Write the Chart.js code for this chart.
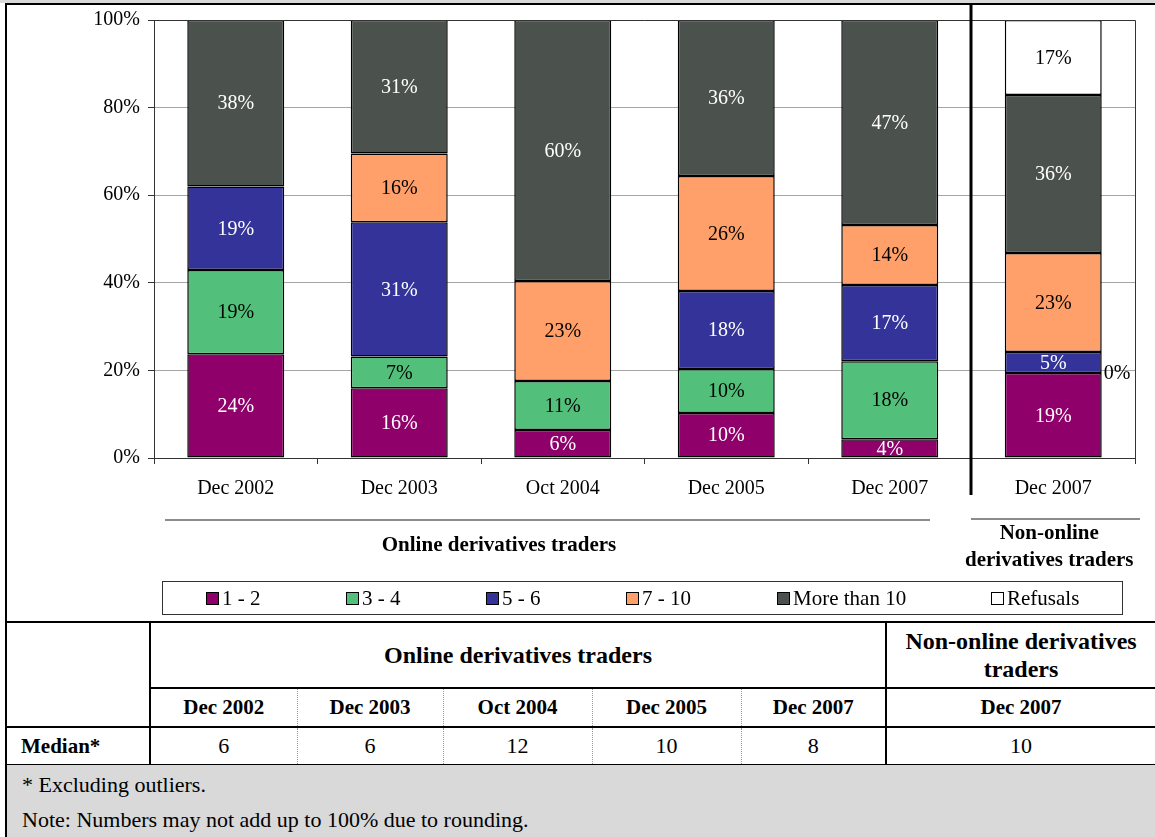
<html>
    <head>
        <title>Number of derivatives trades</title>
        <script src="https://cdn.jsdelivr.net/npm/chart.js"></script>
        <style>
            body {
                margin: 0;
                background: #fff;
                font-family: "Liberation Serif", "Times New Roman", serif;
                color: #000;
            }
            #strip { position: absolute; left: 0; top: 0; width: 1155px; height: 3px; background: #d9d9d9; }
            #frameTop { position: absolute; left: 5px; top: 3px; width: 1150px; height: 2px; background: #000; }
            #frameLeft { position: absolute; left: 5px; top: 3px; width: 2px; height: 834px; background: #000; }
            #chart { position: absolute; left: 0; top: 0; }
            #legend {
                position: absolute; left: 162px; top: 581px; width: 959px; height: 32px;
                border: 1px solid #333; font-size: 21px;
            }
            #legend .item { position: absolute; top: 5px; white-space: nowrap; line-height: 22px; }
            #legend .box {
                display: inline-block; width: 11px; height: 11px; border: 1px solid #000;
                margin-right: 3px; vertical-align: 0px;
            }
            #tbl {
                position: absolute; left: 5px; top: 621px; width: 1150px;
                border-collapse: collapse; table-layout: fixed;
                border-top: 2px solid #000;
            }
            #tbl td { border-bottom: 2px solid #000; text-align: center; padding: 0; }
            #tbl .head { font-weight: bold; font-size: 24px; line-height: 28px; height: 66px; }
            #tbl .date { font-weight: bold; font-size: 21px; height: 39px; }
            #tbl .val { font-size: 22px; height: 38px; }
            #tbl .lab { text-align: left; padding-left: 16px; font-weight: bold; font-size: 21px; }
            #tbl .solid { border-right: 2px solid #000; }
            #tbl .dots { border-right: 1px dotted #999; }
            #foot {
                position: absolute; left: 7px; top: 765px; width: 1148px; height: 72px;
                background: #d9d9d9; font-size: 22px;
            }
            #foot div { position: absolute; left: 15px; white-space: nowrap; }
        </style>
    </head>
    <body>
        <div id="strip"></div>
        <div id="frameTop"></div>
        <div id="frameLeft"></div>
        <canvas id="chart" width="1155" height="620"></canvas>
        <div id="legend"></div>
        <table id="tbl"></table>
        <div id="foot">
            <div style="top:7px">* Excluding outliers.</div>
            <div style="top:42px">Note: Numbers may not add up to 100% due to rounding.</div>
        </div>
        <script>
            // survey periods, last one is the non-online group
            const categories = ['Dec 2002', 'Dec 2003', 'Oct 2004', 'Dec 2005', 'Dec 2007', 'Dec 2007'];
            const groupNames = ['Online derivatives traders', 'Non-online derivatives traders'];
            const seriesNames = ['1 - 2', '3 - 4', '5 - 6', '7 - 10', 'More than 10', 'Refusals'];
            // shares in %
            const share1to2 = [23.7, 15.9, 6.4, 10.3, 4.3, 19.4];
            const share3to4 = [19.2, 7.3, 11.2, 10.0, 17.8, 0];
            const share5to6 = [19.1, 30.6, 0, 17.8, 17.4, 4.8];
            const share7to10 = [0, 15.7, 22.8, 26.3, 13.7, 22.6];
            const shareOver10 = [38.0, 30.5, 59.6, 35.6, 46.8, 36.1];
            const shareRefusals = [0, 0, 0, 0, 0, 17.1];
            const medians = [6, 6, 12, 10, 8, 10];
            const yTicks = [0, 20, 40, 60, 80, 100];

            const colors = ['#8f006b', '#52c07b', '#333399', '#ffa06a', '#4b524e', '#ffffff'];
            const labelColors = ['#fff', '#000', '#fff', '#000', '#fff', '#000'];
            const serif = '"Liberation Serif", "Times New Roman", serif';

            const allShares = [share1to2, share3to4, share5to6, share7to10, shareOver10, shareRefusals];
            const datasets = allShares.map((vals, i) => ({
                label: seriesNames[i],
                data: vals,
                backgroundColor: colors[i],
                borderColor: '#000',
                borderWidth: 1.5,
                borderSkipped: false,
                barPercentage: 0.593,
                categoryPercentage: 1.0
            }));

            const decorations = {
                id: 'decorations',
                afterDatasetsDraw(chart) {
                    const ctx = chart.ctx;
                    const last = categories.length - 1;
                    ctx.save();
                    ctx.font = '20px ' + serif;
                    ctx.textBaseline = 'middle';
                    chart.data.datasets.forEach((ds, d) => {
                        const meta = chart.getDatasetMeta(d);
                        meta.data.forEach((bar, i) => {
                            const v = ds.data[i];
                            const txt = Math.round(v) + '%';
                            if (v > 0) {
                                ctx.fillStyle = labelColors[d];
                                ctx.textAlign = 'center';
                                ctx.fillText(txt, bar.x, (bar.y + bar.base) / 2 + 1);
                            } else if (i == last && d < seriesNames.length - 1) {
                                ctx.fillStyle = '#000';
                                ctx.textAlign = 'left';
                                ctx.fillText(txt, bar.x + bar.width / 2 + 2, bar.y + 1);
                            }
                        });
                    });
                    ctx.restore();
                },
                afterDraw(chart) {
                    const ctx = chart.ctx;
                    const a = chart.chartArea;
                    const x = chart.scales.x;
                    ctx.save();
                    // plot frame top/right
                    ctx.strokeStyle = '#333';
                    ctx.lineWidth = 1;
                    ctx.beginPath();
                    ctx.moveTo(a.left, a.top + 0.5);
                    ctx.lineTo(a.right + 0.5, a.top + 0.5);
                    ctx.lineTo(a.right + 0.5, a.bottom);
                    ctx.stroke();
                    // separator between online and non-online
                    const sep = Math.round(x.getPixelForValue(categories.length - 1.5)) - 1;
                    ctx.strokeStyle = '#000';
                    ctx.lineWidth = 3;
                    ctx.beginPath();
                    ctx.moveTo(sep, 5);
                    ctx.lineTo(sep, 495);
                    ctx.stroke();
                    // group underlines
                    ctx.strokeStyle = '#666';
                    ctx.lineWidth = 1.5;
                    ctx.beginPath();
                    ctx.moveTo(165, 520);
                    ctx.lineTo(930, 520);
                    ctx.moveTo(sep, 519);
                    ctx.lineTo(1140, 519);
                    ctx.stroke();
                    // group names
                    ctx.fillStyle = '#000';
                    ctx.font = 'bold 21px ' + serif;
                    ctx.textAlign = 'center';
                    ctx.textBaseline = 'middle';
                    ctx.fillText(groupNames[0], 499, 546);
                    const cx = x.getPixelForValue(categories.length - 1) - 4;
                    ctx.fillText('Non-online', cx, 534);
                    ctx.fillText('derivatives traders', cx, 561);
                    ctx.restore();
                }
            };

            const config = {
                type: 'bar',
                data: { labels: categories, datasets: datasets },
                options: {
                    responsive: false,
                    animation: false,
                    layout: { padding: { left: 0, right: 20, top: 20, bottom: 0 } },
                    plugins: {
                        legend: { display: false },
                        tooltip: { enabled: false }
                    },
                    scales: {
                        x: {
                            stacked: true,
                            grid: { offset: true, drawOnChartArea: false, tickLength: 6, tickColor: '#333' },
                            border: { color: '#333' },
                            ticks: { color: '#000', font: { family: serif, size: 20 }, padding: 13, maxRotation: 0 },
                            afterFit(s) { s.height = 162; }
                        },
                        y: {
                            stacked: true,
                            min: 0,
                            max: 100,
                            afterBuildTicks(s) { s.ticks = yTicks.map(v => ({ value: v })); },
                            grid: {
                                color: c => (c.tick.value == 0 || c.tick.value == 100) ? 'rgba(0,0,0,0)' : '#a6a6a6',
                                tickColor: '#333',
                                tickLength: 6
                            },
                            border: { color: '#333' },
                            ticks: {
                                color: '#000',
                                font: { family: serif, size: 20 },
                                padding: 8,
                                callback: v => v + '%'
                            },
                            afterFit(s) { s.width = 154; }
                        }
                    }
                },
                plugins: [decorations]
            };
            const myChart = new Chart(document.getElementById('chart'), config);

            // legend
            const legendLeft = [43, 183, 323, 463, 614, 828];
            const legend = document.getElementById('legend');
            seriesNames.forEach((name, i) => {
                const item = document.createElement('div');
                item.className = 'item';
                item.style.left = legendLeft[i] + 'px';
                item.innerHTML = '<span class="box" style="background:' + colors[i] + '"></span>' + name;
                legend.appendChild(item);
            });

            // median table
            const widths = [145, 147, 146, 149, 149, 145, 269];
            const tbl = document.getElementById('tbl');
            let html = '<colgroup>' + widths.map(w => '<col style="width:' + w + 'px">').join('') + '</colgroup>';
            html += '<tr><td class="solid" rowspan="2"></td>' +
                '<td class="head solid" colspan="5">' + groupNames[0] + '</td>' +
                '<td class="head">Non-online derivatives<br>traders</td></tr>';
            html += '<tr>' + categories.map((c, i) => {
                const cls = i < 4 ? 'dots' : (i == 4 ? 'solid' : '');
                return '<td class="date ' + cls + '">' + c + '</td>';
            }).join('') + '</tr>';
            html += '<tr><td class="lab solid">Median*</td>' + medians.map((m, i) => {
                const cls = i < 4 ? 'dots' : (i == 4 ? 'solid' : '');
                return '<td class="val ' + cls + '">' + m + '</td>';
            }).join('') + '</tr>';
            tbl.innerHTML = html;
        </script>
    </body>
</html>
